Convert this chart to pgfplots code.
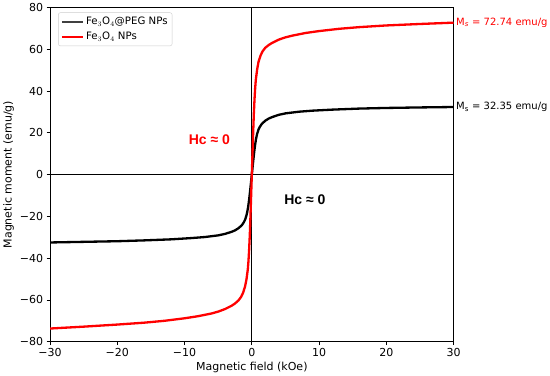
\documentclass[border=0pt]{standalone}
\usepackage{fontspec}
\setmainfont{DejaVu Sans}
\newfontfamily\lib{Liberation Sans}
\usepackage{pgfplots}
\pgfplotsset{compat=1.18}
\begin{document}
\begin{tikzpicture}
\begin{axis}[
  scale only axis, width=402bp, height=333bp,
  xmin=-30, xmax=30, ymin=-80, ymax=80,
  xtick={-30,-20,-10,0,10,20,30},
  xticklabels={−30,−20,−10,0,10,20,30},
  ytick={-80,-60,-40,-20,0,20,40,60,80},
  yticklabels={−80,−60,−40,−20,0,20,40,60,80},
  tick pos=left, tick align=outside,
  major tick length=3.5bp,
  every tick/.style={black, line width=0.7bp},
  axis line style={line width=0.9bp},
  ticklabel style={font=\fontsize{11}{13}\selectfont},
  label style={font=\fontsize{11}{13}\selectfont},
  xlabel={Magnetic field (kOe)},
  ylabel={Magnetic moment (emu/g)},
  xlabel style={yshift=2bp},
  ylabel style={yshift=-1bp},
  clip=false,
  legend style={at={(0.02,0.985)}, anchor=north west, draw=black!20, rounded corners=2bp,
    font=\fontsize{10.2}{12}\selectfont, fill=white, inner sep=2.5bp, row sep=2bp},
  legend cell align=left,
  legend image code/.code={\draw[#1] (0bp,0bp) -- (21bp,0bp);},
]
\addlegendimage{black!75, line width=2.2bp}
\addlegendentry{Fe$_3$O$_4$@PEG NPs}
\addlegendimage{red, line width=2.2bp}
\addlegendentry{Fe$_3$O$_4$ NPs}
% zero lines
\addplot[black, line width=0.9bp, forget plot] coordinates {(-30,0) (30,0)};
\addplot[black, line width=0.9bp, forget plot] coordinates {(0,-80) (0,80)};
% Fe3O4@PEG
\addplot[black, line width=2.3bp, line join=round, forget plot] coordinates {
(-30,-32.5) (-25,-32.2) (-20,-31.9) (-16,-31.5) (-12,-31.0) (-9,-30.4) (-7,-29.9) (-5,-29.1)
(-4,-28.4) (-3,-27.4) (-2.5,-26.7) (-2,-25.7) (-1.5,-24.3) (-1.2,-22.9) (-1.0,-21.6) (-0.8,-19.6)
(-0.7,-18.2) (-0.6,-16.5) (-0.5,-14.4) (-0.4,-12.0) (-0.3,-9.2) (-0.2,-6.2) (-0.1,-3.1) (0,0)
(0.1,3.1) (0.2,6.2) (0.3,9.2) (0.4,12.0) (0.5,14.4) (0.6,16.5) (0.7,18.2) (0.8,19.6)
(1.0,21.6) (1.2,22.9) (1.5,24.3) (2,25.8) (2.5,26.8) (3,27.5) (4,28.6) (5,29.3)
(7,30.1) (9,30.6) (12,31.1) (16,31.6) (20,31.9) (25,32.15) (30,32.35)
};
% Fe3O4
\addplot[red, line width=2.3bp, line join=round, forget plot] coordinates {
(-30,-73.7) (-25,-72.8) (-20,-71.8) (-16,-70.9) (-13,-70.0) (-10,-68.8) (-8,-67.8) (-6,-66.5)
(-5,-65.6) (-4,-64.4) (-3,-62.8) (-2.5,-61.7) (-2,-60.3) (-1.6,-58.6) (-1.3,-56.6) (-1.0,-53.5)
(-0.8,-50.3) (-0.6,-45.5) (-0.5,-41.5) (-0.4,-36) (-0.3,-29) (-0.2,-20) (-0.1,-10) (0,0)
(0.1,10) (0.2,20) (0.3,29) (0.4,36) (0.5,41.5) (0.6,45.5) (0.8,50.5) (1.0,54)
(1.3,57) (1.6,59) (2,60.7) (2.5,62) (3,63) (4,64.6) (5,65.7) (6,66.5)
(8,67.8) (10,68.7) (13,69.8) (16,70.6) (20,71.4) (25,72.1) (30,72.74)
};
\node[anchor=west, red, font=\fontsize{10}{12}\selectfont, inner sep=2.5bp] at (axis cs:30,72.74) {M\textsubscript{\textit{s}} = 72.74 emu/g};
\node[anchor=west, black, font=\fontsize{10}{12}\selectfont, inner sep=2.5bp] at (axis cs:30,32.35) {M\textsubscript{s} = 32.35 emu/g};
\node[red, font=\lib\bfseries\fontsize{14}{16}\selectfont] at (axis cs:-6.3,16.5) {Hc ≈ 0};
\node[black, font=\lib\bfseries\fontsize{14}{16}\selectfont] at (axis cs:7.9,-12) {Hc ≈ 0};
\end{axis}
\end{tikzpicture}
\end{document}
